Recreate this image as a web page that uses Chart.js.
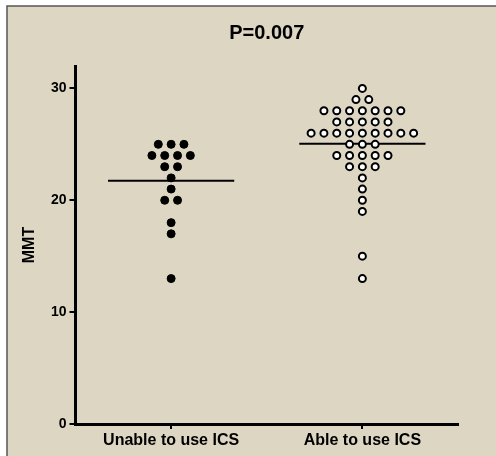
<!DOCTYPE html>
<html>
<head>
<meta charset="utf-8">
<script src="https://cdn.jsdelivr.net/npm/chart.js@4.4.1/dist/chart.umd.min.js"></script>
<style>
  html, body { margin: 0; padding: 0; background: #fff; }
  canvas { display: block; }
</style>
</head>
<body>
<canvas id="dots" width="496" height="456"></canvas>
<script>
// MMT per group
var categories = ['Unable to use ICS', 'Able to use ICS'];
var unableValues = [25, 25, 25, 24, 24, 24, 24, 23, 23, 22, 21, 20, 20, 18, 17, 13];
var ableValues = [30, 29, 29, 28, 28, 28, 28, 28, 28, 28, 27, 27, 27, 27, 27,
    26, 26, 26, 26, 26, 26, 26, 26, 26, 25, 25, 25, 24, 24, 24, 24, 24,
    23, 23, 23, 22, 21, 20, 19, 15, 13];
var yTicks = [0, 10, 20, 30];
var pValue = 'P=0.007';

var FONT = 'Liberation Sans, Arial, Helvetica, sans-serif';
var STEP = 0.067;      // horizontal spacing between dots of equal value
var HALF_MEAN = 0.33;  // half length of the mean bar

// spread equal values side by side around the column centre
function spread(values, centre) {
    var counts = {}, seen = {};
    values.forEach(function (v) { counts[v] = (counts[v] || 0) + 1; });
    return values.map(function (v) {
        var i = seen[v] || 0;
        seen[v] = i + 1;
        return { x: centre + (i - (counts[v] - 1) / 2) * STEP, y: v };
    });
}

function mean(values) {
    return values.reduce(function (a, b) { return a + b; }, 0) / values.length;
}

function meanLine(values, centre) {
    var m = mean(values);
    return [{ x: centre - HALF_MEAN, y: m }, { x: centre + HALF_MEAN, y: m }];
}

var framePlugin = {
    id: 'frame',
    beforeDraw: function (chart) {
        var c = chart.ctx;
        c.save();
        c.fillStyle = '#ffffff';
        c.fillRect(0, 0, chart.width, chart.height);
        c.fillStyle = '#dcd6c2';
        c.fillRect(7, 6, chart.width - 7, chart.height - 6);
        c.strokeStyle = '#555555';
        c.lineWidth = 1.5;
        c.beginPath();
        c.moveTo(7, chart.height);
        c.lineTo(7, 6);
        c.lineTo(chart.width, 6);
        c.stroke();
        c.restore();
    }
};

new Chart(document.getElementById('dots'), {
    type: 'scatter',
    data: {
        datasets: [
            {
                label: categories[0],
                data: spread(unableValues, 1),
                backgroundColor: '#000',
                borderColor: '#000',
                borderWidth: 1,
                pointRadius: 4,
                order: 0
            },
            {
                label: categories[1],
                data: spread(ableValues, 2),
                backgroundColor: '#fff',
                borderColor: '#000',
                borderWidth: 2,
                pointRadius: 3.5,
                order: 0
            },
            {
                type: 'line',
                data: meanLine(unableValues, 1),
                borderColor: '#000',
                borderWidth: 2,
                pointRadius: 0,
                order: 1
            },
            {
                type: 'line',
                data: meanLine(ableValues, 2),
                borderColor: '#000',
                borderWidth: 2,
                pointRadius: 0,
                order: 1
            }
        ]
    },
    options: {
        responsive: false,
        animation: false,
        layout: { padding: { left: 20, right: 38, top: 0, bottom: 0 } },
        plugins: {
            legend: { display: false },
            tooltip: { enabled: false },
            title: {
                display: true,
                text: pValue,
                fullSize: false,
                color: '#000',
                font: { family: FONT, size: 20, weight: 'bold' },
                padding: { top: 21, bottom: 21 }
            }
        },
        scales: {
            x: {
                type: 'linear',
                min: 0.5,
                max: 2.5,
                afterBuildTicks: function (scale) {
                    scale.ticks = categories.map(function (c, i) { return { value: i + 1 }; });
                },
                afterFit: function (scale) { scale.height = 32; },
                ticks: {
                    color: '#000',
                    padding: 2,
                    font: { family: FONT, size: 16, weight: 'bold' },
                    callback: function (v) { return categories[v - 1]; }
                },
                grid: { drawOnChartArea: false, tickLength: 5, lineWidth: 2, color: '#000' },
                border: { color: '#000', width: 3 }
            },
            y: {
                min: 0,
                max: 32,
                afterBuildTicks: function (scale) {
                    scale.ticks = yTicks.map(function (v) { return { value: v }; });
                },
                afterFit: function (scale) { scale.width = 55.5; },
                ticks: {
                    color: '#000',
                    padding: 3,
                    font: { family: FONT, size: 14, weight: 'bold' }
                },
                grid: { drawOnChartArea: false, tickLength: 6, lineWidth: 2, color: '#000' },
                border: { color: '#000', width: 3 },
                title: {
                    display: true,
                    text: 'MMT',
                    color: '#000',
                    font: { family: FONT, size: 16, weight: 'bold' },
                    padding: { top: 0, bottom: 0 }
                }
            }
        }
    },
    plugins: [framePlugin]
});
</script>
</body>
</html>
